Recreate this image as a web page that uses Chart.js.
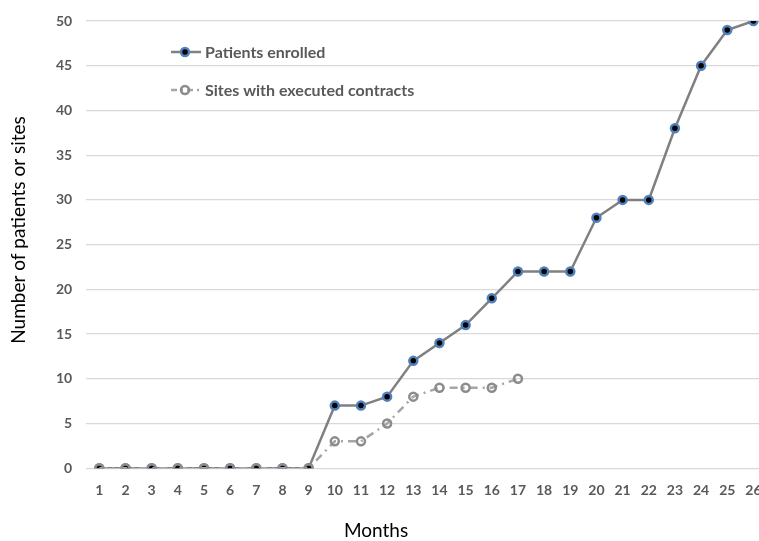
<!DOCTYPE html>
<html>
<head>
<meta charset="utf-8">
<script src="https://cdn.jsdelivr.net/npm/chart.js@4"></script>
<style>
  html, body { margin: 0; padding: 0; overflow: hidden; background: #fff; }
  .wrap { position: relative; width: 773px; height: 541px; }
</style>
</head>
<body>
<div class="wrap"><canvas id="myLineChart"></canvas></div>
<script>
const months = ["1","2","3","4","5","6","7","8","9","10","11","12","13","14","15","16","17","18","19","20","21","22","23","24","25","26"];
const patientsEnrolled = [0,0,0,0,0,0,0,0,0,7,7,8,12,14,16,19,22,22,22,28,30,30,38,45,49,50];
const sitesContracts = [0,0,0,0,0,0,0,0,0,3,3,5,8,9,9,9,10];
const yTicks = [0,5,10,15,20,25,30,35,40,45,50];
const xTitle = "Months";
const yTitle = "Number of patients or sites";

// legend drawn inside the plot, top-left, plus the axis titles
const insideLegend = {
  id: "insideLegend",
  afterDraw(chart) {
    const ctx = chart.ctx;
    const rows = [
      { ds: chart.data.datasets[1], y: 52, dash: [] },
      { ds: chart.data.datasets[0], y: 90, dash: [6, 4, 2, 4] },
    ];
    ctx.save();
    rows.forEach((r) => {
      ctx.strokeStyle = r.ds.borderColor;
      ctx.lineWidth = r.ds.borderWidth;
      ctx.setLineDash(r.dash);
      ctx.beginPath();
      ctx.moveTo(171, r.y);
      ctx.lineTo(201, r.y);
      ctx.stroke();
      ctx.setLineDash([]);
      ctx.beginPath();
      ctx.arc(185, r.y, r.ds.pointRadius, 0, Math.PI * 2);
      ctx.fillStyle = r.ds.pointBackgroundColor;
      ctx.fill();
      ctx.lineWidth = r.ds.pointBorderWidth;
      ctx.strokeStyle = r.ds.pointBorderColor;
      ctx.stroke();
      ctx.fillStyle = "#595959";
      ctx.font = "bold 16px Lato";
      ctx.textBaseline = "middle";
      ctx.fillText(r.ds.label, 205, r.y + 1);
    });

    // axis titles
    ctx.fillStyle = "#000";
    ctx.font = "19px Lato";
    ctx.textAlign = "center";
    ctx.textBaseline = "middle";
    ctx.fillText(xTitle, 376, 531);
    ctx.translate(19, 230);
    ctx.rotate(-Math.PI / 2);
    ctx.fillText(yTitle, 0, 0);
    ctx.restore();
  },
};

const ctx = document.getElementById("myLineChart");
const dataset = {
  labels: months,
  datasets: [
    {
      label: "Sites with executed contracts",
      data: sitesContracts,
      borderColor: "#a6a6a6",
      borderWidth: 2.5,
      borderDash: [8, 5, 2, 5],
      pointRadius: 4,
      pointBorderWidth: 2.5,
      pointBorderColor: "#8c8c8c",
      pointBackgroundColor: "rgba(255,255,255,0)",
      fill: false,
      tension: 0,
      order: 0,
    },
    {
      label: "Patients enrolled",
      data: patientsEnrolled,
      borderColor: "#808080",
      borderWidth: 2.5,
      pointRadius: 4,
      pointBorderWidth: 2.5,
      pointBorderColor: "#4f81bd",
      pointBackgroundColor: "#000000",
      fill: false,
      tension: 0,
      order: 1,
    },
  ],
};

const config = {
  type: "line",
  data: dataset,
  plugins: [insideLegend],
  options: {
    responsive: true,
    maintainAspectRatio: false,
    animation: false,
    layout: { padding: { top: 5, left: 42, right: 0, bottom: 36 } },
    plugins: {
      legend: { display: false },
      tooltip: { enabled: false },
    },
    scales: {
      x: {
        offset: true,
        grid: { display: false },
        border: { display: false },
        ticks: {
          color: "#595959",
          font: { family: "Lato", size: 14, weight: "bold" },
          maxRotation: 0,
          autoSkip: false,
          padding: 6,
        },
      },
      y: {
        min: 0,
        max: 50,
        afterBuildTicks: (axis) => {
          axis.ticks = yTicks.map((v) => ({ value: v }));
        },
        grid: { color: "#d9d9d9", lineWidth: 1.3, drawTicks: false },
        border: { display: false },
        ticks: {
          color: "#595959",
          font: { family: "Lato", size: 14, weight: "bold", lineHeight: 1 },
          padding: 14,
        },
      },
    },
  },
};

new Chart(ctx, config);
</script>
</body>
</html>
